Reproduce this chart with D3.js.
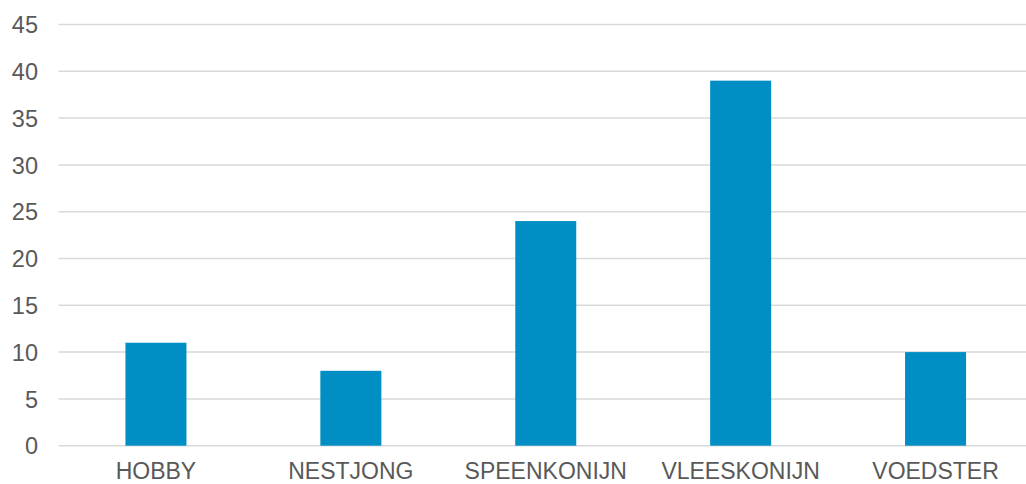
<!DOCTYPE html>
<html>
<head>
<meta charset="utf-8">
<script src="https://cdn.jsdelivr.net/npm/d3@7"></script>
<style>
  html, body { margin: 0; padding: 0; background: #fff; }
  svg { display: block; }
  text { font-family: "Liberation Sans", Arial, sans-serif; fill: #595959; }
</style>
</head>
<body>
<svg id="chart" width="1026" height="484"></svg>
<script>
const categories = ["HOBBY", "NESTJONG", "SPEENKONIJN", "VLEESKONIJN", "VOEDSTER"];
const values = [11, 8, 24, 39, 10];
const yTicks = [0, 5, 10, 15, 20, 25, 30, 35, 40, 45];

const svg = d3.select("#chart");
const plotLeft = 58.5, plotRight = 1033, plotTop = 24.5, plotBottom = 445.7;

const x = d3.scaleBand().domain(categories).range([plotLeft, plotRight])
  .paddingInner(0.687).paddingOuter(0.3435);
const y = d3.scaleLinear().domain([0, 45]).range([plotBottom, plotTop]);

// gridlines
svg.append("g").selectAll("line").data(yTicks).join("line")
  .attr("x1", plotLeft).attr("x2", plotRight)
  .attr("y1", d => y(d)).attr("y2", d => y(d))
  .attr("stroke", "#d9d9d9").attr("stroke-width", 1.5);

// y axis labels
const yAxis = d3.axisLeft(y).tickValues(yTicks).tickSize(0).tickPadding(0);
const gy = svg.append("g").attr("transform", `translate(38,0)`).call(yAxis);
gy.select(".domain").remove();
gy.selectAll("text").style("font-size", "23.5px").attr("fill", "#595959")
  .style("font-family", "'Liberation Sans', Arial, sans-serif").attr("dy", "0.35em");

// bars
svg.append("g").selectAll("rect").data(values).join("rect")
  .attr("x", (d, i) => x(categories[i]))
  .attr("width", x.bandwidth())
  .attr("y", d => y(d))
  .attr("height", d => y(0) - y(d))
  .attr("fill", "#008ec4");

// x axis labels
const xAxis = d3.axisBottom(x).tickSize(0).tickPadding(0);
const gx = svg.append("g").attr("transform", `translate(0,${plotBottom})`).call(xAxis);
gx.select(".domain").remove();
gx.selectAll("text").style("font-size", "23px").attr("fill", "#595959")
  .style("font-family", "'Liberation Sans', Arial, sans-serif")
  .attr("dy", null).attr("y", 33.5);
</script>
</body>
</html>
